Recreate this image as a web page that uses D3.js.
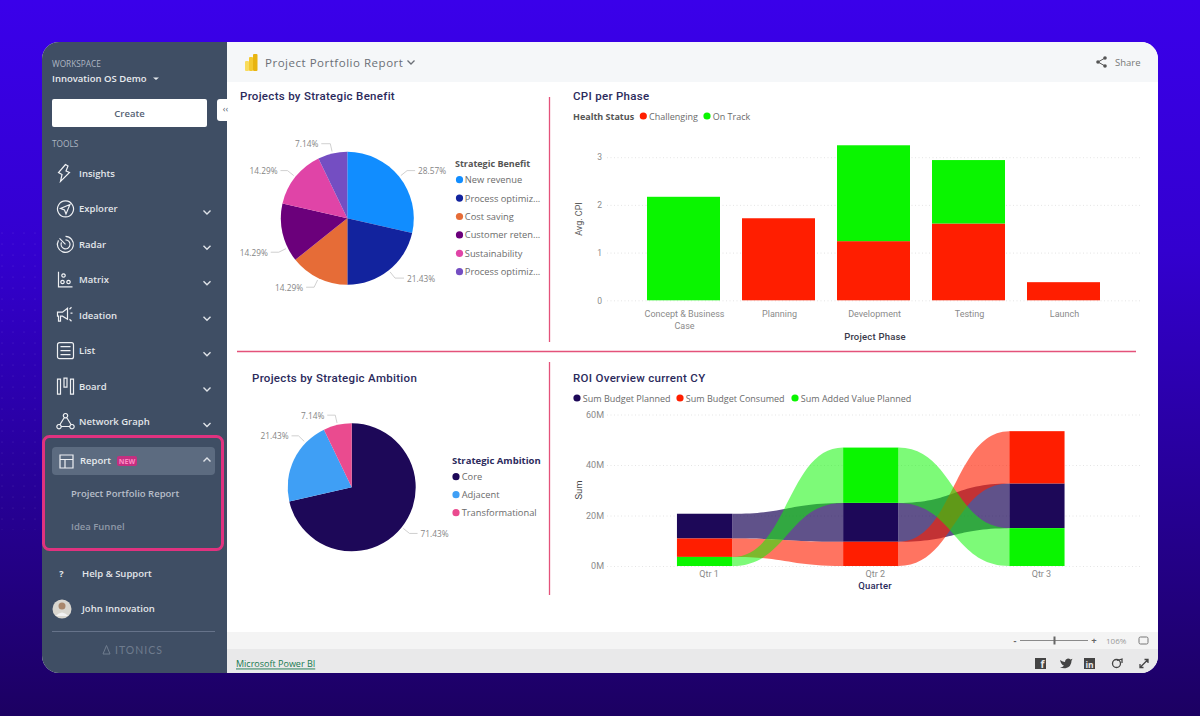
<!DOCTYPE html>
<html>
<head>
<meta charset="utf-8">
<script src="https://cdn.jsdelivr.net/npm/d3@7"></script>
<style>
	html, body { margin: 0; padding: 0; background: #20007a; overflow: hidden; }
	svg { display: block; }
</style>
</head>
<body>
<svg id="chart" width="1200" height="716"></svg>
<script>
// === Data ===
const benefitNames = ['New revenue', 'Process optimiz...', 'Cost saving', 'Customer reten...', 'Sustainability', 'Process optimiz...'];
const benefitValues = [28.57, 21.43, 14.29, 14.29, 14.29, 7.14];
const benefitColors = ['#118dff', '#12239e', '#e66c37', '#6b007b', '#e044a7', '#744ec2'];

const ambitionNames = ['Core', 'Adjacent', 'Transformational'];
const ambitionValues = [71.43, 21.43, 7.14];
const ambitionColors = ['#1d0858', '#3f9ff5', '#ea4b8f'];

const phases = ['Concept & Business Case', 'Planning', 'Development', 'Testing', 'Launch'];
const cpiChallenging = [0, 1.72, 1.24, 1.61, 0.38];
const cpiOnTrack = [2.17, 0, 2.01, 1.33, 0];
const cpiTicks = [0, 1, 2, 3];

const quarters = ['Qtr 1', 'Qtr 2', 'Qtr 3'];
const budgetPlanned = [9.8, 15.4, 17.7];
const budgetConsumed = [7.3, 9.6, 20.7];
const addedValuePlanned = [3.6, 21.9, 15];
const roiTicks = [0, 20, 40, 60];

const toolNames = ['Insights', 'Explorer', 'Radar', 'Matrix', 'Ideation', 'List', 'Board', 'Network Graph'];

const RED = '#ff1e00', GREEN = '#0af500', NAVY = '#1d0858';
const UI_FONT = '"Open Sans", "Noto Sans", sans-serif';
const DIN_FONT = 'Roboto, "Noto Sans", sans-serif';
const DIVIDER = '#e4527a';

const svg = d3.select('#chart');
const defs = svg.append('defs');

function addText(parent, x, y, str, opts = {}) {
	return parent.append('text')
		.attr('x', x).attr('y', y)
		.attr('dominant-baseline', 'central')
		.attr('text-anchor', opts.anchor || 'start')
		.style('font-family', opts.font || UI_FONT)
		.style('font-size', (opts.size || 10) + 'px')
		.style('font-weight', opts.weight || 400)
		.style('letter-spacing', (opts.spacing || 0) + 'px')
		.style('fill', opts.fill || '#666')
		.text(str);
}

// === Page background and window ===
const bg = defs.append('linearGradient').attr('id', 'bg').attr('x1', 0).attr('y1', 0).attr('x2', 0).attr('y2', 1);
[['0%', '#3a00ea'], ['35%', '#3300cf'], ['70%', '#260094'], ['100%', '#1c0062']].forEach(s => {
	bg.append('stop').attr('offset', s[0]).attr('stop-color', s[1]);
});
svg.append('rect').attr('width', 1200).attr('height', 716).attr('fill', 'url(#bg)');

// faint dot texture left of the window
const dots = defs.append('pattern').attr('id', 'dots').attr('width', 11).attr('height', 11).attr('patternUnits', 'userSpaceOnUse');
dots.append('circle').attr('cx', 2).attr('cy', 2).attr('r', 0.6).attr('fill', '#ffffff').attr('fill-opacity', 0.14);
svg.append('rect').attr('x', 0).attr('y', 230).attr('width', 42).attr('height', 300).attr('fill', 'url(#dots)');

defs.append('clipPath').attr('id', 'win').append('rect')
	.attr('x', 42).attr('y', 42).attr('width', 1116).attr('height', 631).attr('rx', 17);

const win = svg.append('g').attr('clip-path', 'url(#win)');
win.append('rect').attr('x', 42).attr('y', 42).attr('width', 1116).attr('height', 631).attr('fill', '#fff');
win.append('rect').attr('x', 227).attr('y', 42).attr('width', 931).attr('height', 40).attr('fill', '#f5f7f9');
win.append('rect').attr('x', 227).attr('y', 632).attr('width', 931).attr('height', 17).attr('fill', '#f4f4f4');
win.append('rect').attr('x', 227).attr('y', 649).attr('width', 931).attr('height', 24).attr('fill', '#e9e9ea');
win.append('rect').attr('x', 42).attr('y', 42).attr('width', 185).attr('height', 631).attr('fill', '#3f4e64');

// === Sidebar ===
const side = win.append('g');
addText(side, 52, 63.5, 'WORKSPACE', { size: 8.3, fill: '#aeb6c2' });
addText(side, 52, 78, 'Innovation OS Demo', { size: 9.5, weight: 600, fill: '#e8ebef' });
side.append('path').attr('d', 'M153 77.5 l3 2.5 l3 -2.5 z').attr('fill', '#e8ebef');
side.append('rect').attr('x', 52).attr('y', 99).attr('width', 155).attr('height', 28).attr('rx', 2).attr('fill', '#fff');
addText(side, 129.5, 113, 'Create', { size: 9.5, weight: 600, anchor: 'middle', fill: '#566274' });
side.append('rect').attr('x', 217).attr('y', 99).attr('width', 14).attr('height', 22).attr('rx', 3).attr('fill', '#fff');
addText(side, 225.5, 108.5, '‹‹', { size: 9, anchor: 'middle', fill: '#566274' });
addText(side, 52, 143.5, 'TOOLS', { size: 8.3, fill: '#aeb6c2' });

const toolIcons = {
	Insights: 'M9 0 L2 8 L5.5 10 L4 17 L13 8 L9.5 6.5 L11.5 1.5 Z',
	Explorer: 'M9 1 a8 8 0 1 0 0.01 0 Z M13.5 4.5 L4 8.5 L8 10 L9.5 14 Z',
	Radar: 'M9 1 a8 8 0 1 1 -7 4 M9 4.5 a4.5 4.5 0 1 1 -4 2.5 M9 9 L3 3',
	Matrix: 'M2 1 V16 H16 M7 3 a1.7 1.7 0 1 0 0.01 0 Z M6 9.5 a1.7 1.7 0 1 0 0.01 0 Z M12 9.5 a1.7 1.7 0 1 0 0.01 0 Z',
	Ideation: 'M1 6 H6 L11 2 V13 L6 10 H4 V15 H2 V10 H1 Z M14 7 H16 M13 3 L15 1 M13 13 L15 15',
	List: 'M3 1 H15 a2 2 0 0 1 2 2 V15 a2 2 0 0 1 -2 2 H3 a2 2 0 0 1 -2 -2 V3 a2 2 0 0 1 2 -2 Z M4 5 H14 M4 9 H14 M4 13 H14',
	Board: 'M1 2 h3 v15 h-3 Z M7.5 1 h3 v9 h-3 Z M14 2 h3 v15 h-3 Z',
	'Network Graph': 'M9 1 a2.2 2.2 0 1 0 0.01 0 Z M2.5 12 a2.2 2.2 0 1 0 0.01 0 Z M15.5 12 a2.2 2.2 0 1 0 0.01 0 Z M7.8 5 L3.5 12 M10.2 5 L14.5 12 M5 14 H13'
};

function chevron(parent, x, y, up) {
	parent.append('path')
		.attr('d', up ? `M${x - 3.5} ${y + 2} l3.5 -3.5 l3.5 3.5` : `M${x - 3.5} ${y - 1.5} l3.5 3.5 l3.5 -3.5`)
		.attr('fill', 'none').attr('stroke', '#dfe3e8').attr('stroke-width', 1.4);
}

toolNames.forEach((name, i) => {
	const y = 173.5 + i * 35.43;
	side.append('path').attr('d', toolIcons[name])
		.attr('transform', `translate(${56.5}, ${y - 9})`)
		.attr('fill', 'none').attr('stroke', '#eef0f3').attr('stroke-width', 1.2);
	addText(side, 79, y, name, { size: 9.5, weight: 600, fill: '#e3e6ea' });
	if (i > 0) chevron(side, 207, y + 3, false);
});

// Report block, highlighted
side.append('rect').attr('x', 52).attr('y', 447).attr('width', 163).attr('height', 28).attr('rx', 4).attr('fill', '#5c6b80');
side.append('path').attr('d', 'M60 455 h13 v13 h-13 Z M60 459.5 h13 M65 459.5 v8.5')
	.attr('fill', 'none').attr('stroke', '#eef0f3').attr('stroke-width', 1.2);
addText(side, 80, 460.5, 'Report', { size: 9.5, weight: 600, fill: '#e8ebef' });
side.append('rect').attr('x', 117).attr('y', 456).attr('width', 20).attr('height', 10).attr('rx', 2).attr('fill', '#c42f80');
addText(side, 127, 461, 'NEW', { size: 7, weight: 700, anchor: 'middle', fill: '#ff8ac4' });
chevron(side, 207, 459.5, true);
addText(side, 71, 493, 'Project Portfolio Report', { size: 9.5, weight: 600, fill: '#b7bec9' });
addText(side, 71, 526, 'Idea Funnel', { size: 9.5, weight: 600, fill: '#8f99a8' });
side.append('rect').attr('x', 43.5).attr('y', 436.5).attr('width', 179).attr('height', 113).attr('rx', 6)
	.attr('fill', 'none').attr('stroke', '#e0327f').attr('stroke-width', 3);

addText(side, 61.5, 573.5, '?', { size: 9, weight: 700, anchor: 'middle', fill: '#e8ebef' });
addText(side, 82, 573.5, 'Help & Support', { size: 9.5, weight: 600, fill: '#e3e6ea' });
side.append('circle').attr('cx', 62).attr('cy', 609).attr('r', 9.5).attr('fill', '#d9d6cf');
side.append('circle').attr('cx', 62).attr('cy', 606).attr('r', 3.5).attr('fill', '#a9876c');
side.append('path').attr('d', 'M55.5 616 q6.5 -7 13 0 Z').attr('fill', '#f2f2f2');
addText(side, 82, 608.5, 'John Innovation', { size: 9.5, weight: 600, fill: '#e3e6ea' });
side.append('line').attr('x1', 52).attr('x2', 215).attr('y1', 631.5).attr('y2', 631.5).attr('stroke', '#66738a');
side.append('path').attr('d', 'M103 654 L106.5 645.5 L110 654 Z').attr('fill', 'none').attr('stroke', '#6f7c8e');
addText(side, 115, 650, 'ITONICS', { size: 10.5, font: 'Lato, sans-serif', spacing: 1, fill: '#6f7c8e' });

// === Report header ===
const header = win.append('g');
[[245, 61, 4, 10], [249, 57, 4, 14], [253, 54, 4.5, 17]].forEach((b, i) => {
	header.append('rect').attr('x', b[0]).attr('y', b[1]).attr('width', b[2]).attr('height', b[3]).attr('rx', 1)
		.attr('fill', ['#f9dc5c', '#f4c92f', '#e8b410'][i]);
});
addText(header, 265, 62.5, 'Project Portfolio Report', { size: 11.5, weight: 500, spacing: 0.52, fill: '#6b6f76' });
header.append('path').attr('d', 'M407.5 60.5 l3.5 3.5 l3.5 -3.5').attr('fill', 'none').attr('stroke', '#6b6f76').attr('stroke-width', 1.3);
const shareIcon = 'M1 5 L8 1 M1 5 L8 9';
header.append('path').attr('d', shareIcon).attr('transform', 'translate(1097, 57)').attr('stroke', '#555').attr('fill', 'none');
[[1098, 62], [1105, 58], [1105, 66]].forEach(p => {
	header.append('circle').attr('cx', p[0]).attr('cy', p[1]).attr('r', 1.8).attr('fill', '#555');
});
addText(header, 1115, 62.5, 'Share', { size: 9.5, fill: '#777' });

// === Footer ===
const footer = win.append('g');
addText(footer, 236, 663, 'Microsoft Power BI', { size: 9, fill: '#17794f' }).style('text-decoration', 'underline');
addText(footer, 1015, 640, '-', { size: 9, anchor: 'middle', weight: 700, fill: '#666' });
footer.append('line').attr('x1', 1020).attr('x2', 1088).attr('y1', 640.5).attr('y2', 640.5).attr('stroke', '#8a8a8a');
footer.append('rect').attr('x', 1053.5).attr('y', 636.5).attr('width', 2).attr('height', 8).attr('fill', '#666');
addText(footer, 1094, 640, '+', { size: 9.5, anchor: 'middle', weight: 700, fill: '#666' });
addText(footer, 1106, 640.5, '106%', { size: 8, fill: '#999' });
footer.append('rect').attr('x', 1139).attr('y', 637).attr('width', 9).attr('height', 7).attr('rx', 1.5)
	.attr('fill', 'none').attr('stroke', '#777');
footer.append('rect').attr('x', 1035).attr('y', 658).attr('width', 11).attr('height', 11).attr('fill', '#444');
addText(footer, 1042.5, 664, 'f', { size: 10, weight: 700, anchor: 'middle', fill: '#e9e9ea' });
footer.append('path').attr('d', 'M1060 660 q3 2 5 2 q0 -3 3 -3.5 q1.5 0 2.5 1 l2 -0.8 l-1 2 q0 6 -6 7.5 q-3 0.3 -5.5 -1 q2.5 0 4 -1.5 q-3 -1 -4 -5.7 Z')
	.attr('fill', '#444');
footer.append('rect').attr('x', 1084).attr('y', 658).attr('width', 11).attr('height', 11).attr('fill', '#444');
addText(footer, 1089.5, 664, 'in', { size: 8.5, weight: 700, anchor: 'middle', fill: '#e9e9ea' });
footer.append('circle').attr('cx', 1116.5).attr('cy', 663.5).attr('r', 4).attr('fill', 'none').attr('stroke', '#444').attr('stroke-width', 1.3);
footer.append('path').attr('d', 'M1117 660.5 l5 -1.5 v4').attr('fill', 'none').attr('stroke', '#444').attr('stroke-width', 1.3);
footer.append('path').attr('d', 'M1140 667.5 l8 -8 M1144.5 659.5 h3.5 v3.5 M1140 664 v3.5 h3.5')
	.attr('fill', 'none').attr('stroke', '#444').attr('stroke-width', 1.3);

// === Dividers and titles ===
const report = win.append('g');
[[549.5, 97, 549.5, 342], [237, 351.5, 1136, 351.5], [549.5, 362, 549.5, 595]].forEach(d => {
	report.append('line').attr('x1', d[0]).attr('y1', d[1]).attr('x2', d[2]).attr('y2', d[3])
		.attr('stroke', DIVIDER).attr('stroke-width', 1.3);
});
const titleOpts = { size: 11.5, font: DIN_FONT, weight: 500, spacing: 0.3, fill: '#2b2a5c' };
addText(report, 240, 96, 'Projects by Strategic Benefit', titleOpts);
addText(report, 573, 96, 'CPI per Phase', titleOpts);
addText(report, 252, 378, 'Projects by Strategic Ambition', titleOpts);
addText(report, 573, 378, 'ROI Overview current CY', titleOpts);

function dotLegend(parent, names, colors, xs, ys, textGap, size) {
	names.forEach((name, i) => {
		parent.append('circle').attr('cx', xs[i]).attr('cy', ys[i]).attr('r', 3.6).attr('fill', colors[i]);
		addText(parent, xs[i] + textGap, ys[i], name, { size: size || 9.3, fill: '#6b6b6b' });
	});
}

// === Pies ===
function drawPie(opts) {
	const g = report.append('g').attr('transform', `translate(${opts.cx}, ${opts.cy})`);
	const pie = d3.pie().sort(null).value(d => d);
	const arcs = pie(opts.values);
	const arc = d3.arc().innerRadius(0).outerRadius(opts.r);
	g.selectAll('path.slice').data(arcs).join('path')
		.attr('class', 'slice')
		.attr('d', arc)
		.attr('fill', (d, i) => opts.colors[i]);

	arcs.forEach((d, i) => {
		// Power BI moves a few leaders away from the mid angle
		const a = (d.startAngle + d.endAngle) / 2 + (opts.leaderShift[i] || 0);
		const side = Math.sin(a) >= 0 ? 1 : -1;
		const p1 = [Math.sin(a) * (opts.r + 2), -Math.cos(a) * (opts.r + 2)];
		const p2 = [Math.sin(a) * (opts.r + 10), -Math.cos(a) * (opts.r + 10)];
		const p3 = [p2[0] + side * opts.leaderLen[i], p2[1]];
		g.append('path')
			.attr('d', d3.line()([p1, p2, p3]))
			.attr('fill', 'none').attr('stroke', '#c4c4c4').attr('stroke-width', 0.8);
		addText(g, p3[0] + side * 3, p3[1], opts.values[i].toFixed(2) + '%', {
			size: 8.3, fill: '#858585', anchor: side > 0 ? 'start' : 'end'
		});
	});
}

drawPie({
	cx: 347.3, cy: 218.3, r: 66.5,
	values: benefitValues, colors: benefitColors,
	leaderShift: [0, 0, 0, -0.235, 0, 0],
	leaderLen: [8, 9, 8, 8, 7, 9]
});
drawPie({
	cx: 351.7, cy: 487.3, r: 64,
	values: ambitionValues, colors: ambitionColors,
	leaderShift: [0, 0.32, 0],
	leaderLen: [8, 7, 8]
});

addText(report, 455, 163.5, 'Strategic Benefit', { size: 9, weight: 700, fill: '#555' });
dotLegend(report, benefitNames, benefitColors, benefitNames.map(() => 459.5), benefitNames.map((n, i) => 179.7 + i * 18.4), 5.3);
addText(report, 452, 460.5, 'Strategic Ambition', { size: 9.5, weight: 700, fill: '#2b2a5c' });
dotLegend(report, ambitionNames, ambitionColors, ambitionNames.map(() => 456), ambitionNames.map((n, i) => 476.7 + i * 18), 5.7);

function styleAxis(axisG, size, fill) {
	axisG.select('.domain').remove();
	axisG.selectAll('.tick line').remove();
	axisG.selectAll('text').style('font-family', DIN_FONT).style('font-size', size + 'px').style('fill', fill);
}

function drawGrid(parent, scale, ticks, x1, x2) {
	parent.selectAll('line.grid').data(ticks).join('line')
		.attr('class', 'grid')
		.attr('x1', x1).attr('x2', x2)
		.attr('y1', d => scale(d) + 0.5).attr('y2', d => scale(d) + 0.5)
		.attr('stroke', '#dedede').attr('stroke-width', 0.8).attr('stroke-dasharray', '1 2.5');
}

// === CPI per phase (stacked columns) ===
const cpi = report.append('g');
addText(cpi, 573, 116, 'Health Status', { size: 9, weight: 700, fill: '#555' });
dotLegend(cpi, ['Challenging', 'On Track'], [RED, GREEN], [643.3, 707], [116, 116], 5.7, 9);

const cpiX = d3.scaleBand().domain(phases).range([636, 1111]).paddingInner(0.2316).paddingOuter(0.1158);
const cpiY = d3.scaleLinear().domain([0, 3]).range([300.3, 157.2]);
drawGrid(cpi, cpiY, cpiTicks, 607, 1141);

const cpiRows = phases.map((phase, i) => ({ phase, Challenging: cpiChallenging[i], OnTrack: cpiOnTrack[i] }));
const cpiStack = d3.stack().keys(['Challenging', 'OnTrack'])(cpiRows);
cpi.selectAll('g.layer').data(cpiStack).join('g')
	.attr('class', 'layer')
	.attr('fill', (d, i) => [RED, GREEN][i])
	.selectAll('rect').data(d => d).join('rect')
	.attr('x', d => cpiX(d.data.phase))
	.attr('y', d => cpiY(d[1]))
	.attr('width', cpiX.bandwidth())
	.attr('height', d => cpiY(d[0]) - cpiY(d[1]));

cpi.append('g').attr('transform', 'translate(602, 0)')
	.call(d3.axisLeft(cpiY).tickValues(cpiTicks).tickSize(0).tickPadding(0).tickFormat(d3.format('d')))
	.call(g => styleAxis(g, 8.5, '#8a8a8a'));

const cpiAxisX = cpi.append('g').attr('transform', 'translate(1, 310.5)')
	.call(d3.axisBottom(cpiX).tickSize(0).tickPadding(0))
	.call(g => styleAxis(g, 9, '#8a8a8a'));
// first category wraps on two lines
cpiAxisX.selectAll('.tick text').filter(d => d === phases[0]).each(function (d) {
	const t = d3.select(this).text(null);
	t.append('tspan').attr('x', 0).attr('dy', '0.71em').text('Concept & Business');
	t.append('tspan').attr('x', 0).attr('dy', '1.3em').text('Case');
});

addText(cpi, 875, 336, 'Project Phase', { size: 9.5, font: DIN_FONT, weight: 500, spacing: 0.2, anchor: 'middle', fill: '#3a3a4a' });
addText(cpi, 0, 0, 'Avg. CPI', { size: 9, font: DIN_FONT, anchor: 'middle', fill: '#555' })
	.attr('transform', 'translate(579, 219) rotate(-90)');

// === ROI overview (ribbon chart) ===
const roi = report.append('g');
const roiSeries = [
	{ name: 'Sum Budget Planned', values: budgetPlanned, color: NAVY, ribbon: 0.7 },
	{ name: 'Sum Budget Consumed', values: budgetConsumed, color: RED, ribbon: 0.62 },
	{ name: 'Sum Added Value Planned', values: addedValuePlanned, color: GREEN, ribbon: 0.53 }
];
dotLegend(roi, roiSeries.map(s => s.name), roiSeries.map(s => s.color), [577, 680, 795], [398, 398, 398], 5.8, 9);

const roiX = d3.scaleBand().domain(quarters).range([621.5, 1120]).paddingInner(0.6675).paddingOuter(0.3337);
const roiY = d3.scaleLinear().domain([0, 60]).range([566, 414.5]);
drawGrid(roi, roiY, roiTicks, 607, 1141);

// each quarter stacks its series from the smallest up to the largest
const roiBands = quarters.map((q, qi) => {
	const order = d3.range(roiSeries.length).sort((a, b) => roiSeries[a].values[qi] - roiSeries[b].values[qi]);
	const band = {};
	let base = 0;
	order.forEach(si => {
		band[si] = [base, base + roiSeries[si].values[qi]];
		base += roiSeries[si].values[qi];
	});
	return band;
});

const ribbonArea = d3.area()
	.x(d => d.x)
	.y0(d => roiY(d.band[0]))
	.y1(d => roiY(d.band[1]))
	.curve(d3.curveBumpX);

roiSeries.forEach((s, si) => {
	d3.pairs(quarters.map((q, qi) => qi)).forEach(([a, b]) => {
		roi.append('path')
			.attr('d', ribbonArea([
				{ x: roiX(quarters[a]) + roiX.bandwidth(), band: roiBands[a][si] },
				{ x: roiX(quarters[b]), band: roiBands[b][si] }
			]))
			.attr('fill', s.color)
			.attr('fill-opacity', s.ribbon);
	});
});
roiSeries.forEach((s, si) => {
	roi.selectAll(null).data(quarters).join('rect')
		.attr('x', q => roiX(q))
		.attr('y', (q, qi) => roiY(roiBands[qi][si][1]))
		.attr('width', roiX.bandwidth())
		.attr('height', (q, qi) => roiY(roiBands[qi][si][0]) - roiY(roiBands[qi][si][1]))
		.attr('fill', s.color);
});

roi.append('g').attr('transform', 'translate(604, 0)')
	.call(d3.axisLeft(roiY).tickValues(roiTicks).tickSize(0).tickPadding(0).tickFormat(d => d + 'M'))
	.call(g => styleAxis(g, 9, '#8a8a8a'));
roi.append('g').attr('transform', 'translate(4.5, 571)')
	.call(d3.axisBottom(roiX).tickSize(0).tickPadding(0))
	.call(g => styleAxis(g, 9, '#8a8a8a'));

addText(roi, 875, 585, 'Quarter', { size: 9.5, font: DIN_FONT, weight: 500, spacing: 0.2, anchor: 'middle', fill: '#2b2a5c' });
addText(roi, 0, 0, 'Sum', { size: 9.5, font: DIN_FONT, anchor: 'middle', fill: '#444' })
	.attr('transform', 'translate(578.5, 490) rotate(-90)');
</script>
</body>
</html>
